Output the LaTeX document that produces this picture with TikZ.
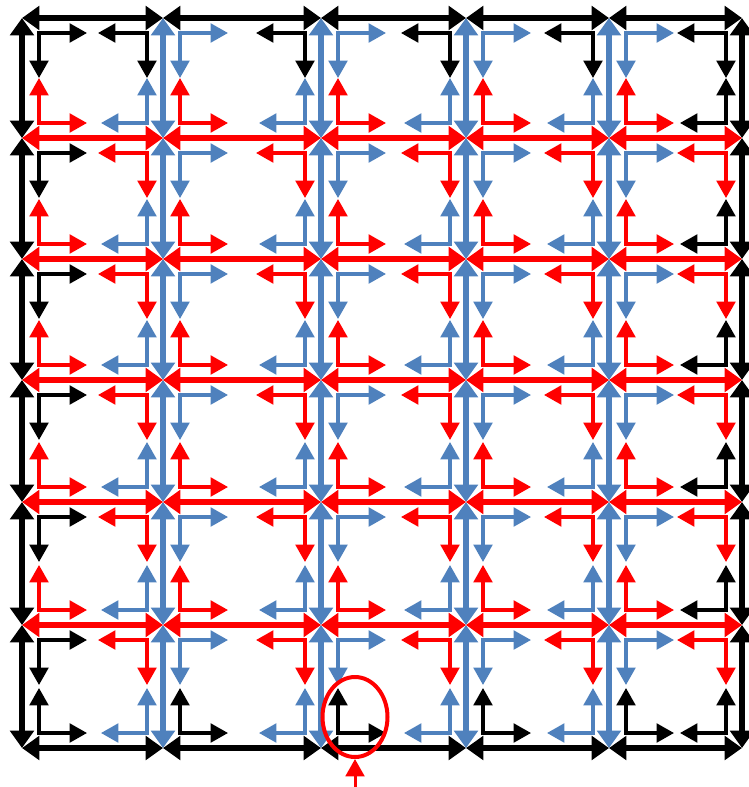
\documentclass[tikz,border=0pt]{standalone}
\usepackage{tikz}
\usetikzlibrary{arrows.meta,shapes.geometric}
\definecolor{gridblue}{RGB}{79,129,189}
\tikzset{
  edgearr/.style={line width=1.6mm,{Triangle[length=5.2mm,width=7mm]}-{Triangle[length=5.2mm,width=7mm]}},
  larr/.style={line width=0.95mm,{Triangle[length=5.2mm,width=5.6mm]}-{Triangle[length=5.2mm,width=5.6mm]}},
}

\begin{document}
\begin{tikzpicture}[x=0.3mm,y=-0.3mm]
    \useasboundingbox (0,0) rectangle (749,787);
    % grid points
    \foreach \x [count=\i from 0] in {22,163,321,466,609,742}
      \foreach \y [count=\j from 0] in {18,138,259,380,502,625,748}
        \coordinate (p-\i-\j) at (\x,\y);
    % corner arrows of each cell
    \foreach \i in {0,...,4} {
      \foreach \j in {0,...,5} {
        \pgfmathtruncatemacro\ii{\i+1}
        \pgfmathtruncatemacro\jj{\j+1}
        \ifnum\i=0 \def\lc{black}\else\def\lc{gridblue}\fi
        \ifnum\i=4 \def\rc{black}\else\def\rc{gridblue}\fi
        \ifnum\j=0 \def\tc{black}\else\def\tc{red}\fi
        \ifnum\j=5 \def\bc{black}\else\def\bc{red}\fi
        \draw[larr,\lc] ([shift={(65,15)}]p-\i-\j) -| ([shift={(17,60)}]p-\i-\j);
        \draw[larr,\tc] ([shift={(-65,15)}]p-\ii-\j) -| ([shift={(-16,60)}]p-\ii-\j);
        \draw[larr,\rc] ([shift={(-62,-15)}]p-\ii-\jj) -| ([shift={(-16,-60)}]p-\ii-\jj);
        \draw[larr,\bc] ([shift={(65,-15)}]p-\i-\jj) -| ([shift={(17,-60)}]p-\i-\jj);
      }
    }
    % vertical edges
    \foreach \i in {0,...,5} {
      \foreach \j in {0,...,5} {
        \pgfmathtruncatemacro\jj{\j+1}
        \ifnum\i=0 \def\ec{black}\else\ifnum\i=5 \def\ec{black}\else\def\ec{gridblue}\fi\fi
        \draw[edgearr,\ec] (p-\i-\j) -- (p-\i-\jj);
      }
    }
    % horizontal edges
    \foreach \i in {0,...,4} {
      \foreach \j in {0,...,6} {
        \pgfmathtruncatemacro\ii{\i+1}
        \ifnum\j=0 \def\ec{black}\else\ifnum\j=6 \def\ec{black}\else\def\ec{red}\fi\fi
        \draw[edgearr,\ec] (p-\i-\j) -- (p-\ii-\j);
      }
    }
    % highlighted corner
    \node[draw=red,line width=1.2mm,ellipse,minimum width=19.5mm,minimum height=24mm] (spot) at (355,717) {};
    \coordinate (entry) at (355,787);
    \draw[red,line width=0.9mm,-{Triangle[length=5.2mm,width=5.6mm]}] (entry) -- (spot.south);
\end{tikzpicture}
\end{document}
